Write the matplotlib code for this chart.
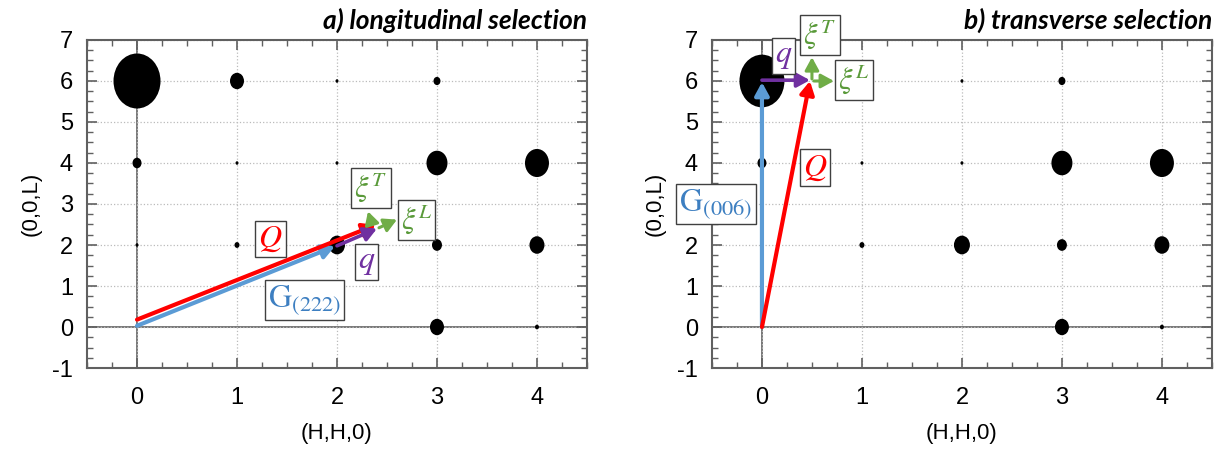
import matplotlib.pyplot as plt
from matplotlib.path import Path
from matplotlib.transforms import Affine2D

plt.rcParams['font.family'] = ['Liberation Sans', 'DejaVu Sans']
plt.rcParams['mathtext.fontset'] = 'stix'
plt.rcParams['axes.unicode_minus'] = False

# Bragg peaks along (H,H,L): positions and spot diameters (px)
peak_h_a = [0, 1, 2, 3, 0, 1, 2, 3, 4, 0, 1, 2, 3, 4, 3, 4]
peak_l_a = [6, 6, 6, 6, 4, 4, 4, 4, 4, 2, 2, 2, 2, 2, 0, 0]
peak_d_a = [47, 14, 3, 7, 9, 3, 3, 21, 24, 3, 5, 16, 10, 15, 14, 4]

peak_h_b = [0, 2, 3, 0, 1, 2, 3, 4, 0, 1, 2, 3, 4, 3, 4]
peak_l_b = [6, 6, 6, 4, 4, 4, 4, 4, 2, 2, 2, 2, 2, 0, 0]
peak_d_b = [45, 3, 7, 9, 3, 3, 21, 24, 3, 5, 16, 10, 15, 14, 4]

# vectors: (start, end) in (H,H,0)/(0,0,L) units
vec_a = {
    'G': ((0.0, 0.03), (1.98, 1.97)),
    'Q': ((0.0, 0.18), (2.39, 2.49)),
    'q': ((2.0, 1.98), (2.40, 2.40)),
    'xiL': ((2.42, 2.42), (2.60, 2.62)),
    'xiT': ((2.35, 2.50), (2.31, 2.82)),
}
vec_b = {
    'G': ((0.0, 0.0), (0.0, 5.97)),
    'Q': ((0.0, 0.0), (0.48, 6.0)),
    'q': ((0.0, 6.02), (0.48, 6.02)),
    'xiL': ((0.52, 6.0), (0.72, 6.0)),
    'xiT': ((0.5, 6.05), (0.5, 6.58)),
}
# label positions
lab_a = {'G': (1.675, 0.65), 'Q': (1.335, 2.14), 'q': (2.295, 1.59),
         'xiL': (2.795, 2.60), 'xiT': (2.34, 3.39)}
lab_b = {'G': (-0.46, 3.0), 'Q': (0.53, 3.89), 'q': (0.215, 6.61),
         'xiL': (0.92, 6.03), 'xiT': (0.58, 7.13)}

titles = ['a) longitudinal selection', 'b) transverse selection']
g_text = [r'$\mathrm{G}_{(222)}$', r'$\mathrm{G}_{(006)}$']
y_ticks = list(range(-1, 8))
# the G(006) box sits over L=3 in panel b
y_ticklabels_a = [str(v) for v in y_ticks]
y_ticklabels_b = ['' if v == 3 else str(v) for v in y_ticks]

colors = {'G': '#5b9bd5', 'Q': '#ff0000', 'q': '#7030a0',
          'xiL': '#70ad47', 'xiT': '#70ad47'}
txt_colors = {'G': '#3d7fc1', 'Q': '#ff0000', 'q': '#7030a0',
              'xiL': '#5a9a3a', 'xiT': '#5a9a3a'}
widths = {'G': 3.0, 'Q': 3.0, 'q': 2.6, 'xiL': 2.2, 'xiT': 2.2}
txt_sizes = {'G': 23, 'Q': 23, 'q': 23, 'xiL': 22, 'xiT': 22}

# slightly tall ellipse for the spots
ell = Path.unit_circle().transformed(Affine2D().scale(1.0, 1.17))

fig = plt.figure(figsize=(12.29, 4.55), dpi=100)
ax_a = fig.add_axes([0.0708, 0.1912, 0.4068, 0.7209])
ax_b = fig.add_axes([0.5793, 0.1912, 0.4068, 0.7209])

panels = [(ax_a, peak_h_a, peak_l_a, peak_d_a, vec_a, lab_a, y_ticklabels_a),
          (ax_b, peak_h_b, peak_l_b, peak_d_b, vec_b, lab_b, y_ticklabels_b)]

for i, (ax, hh, ll, dd, vecs, labs, ylabs) in enumerate(panels):
    ax.set_xlim(-0.5, 4.5)
    ax.set_ylim(-1, 7)
    ax.set_xticks(range(0, 5))
    ax.set_yticks(y_ticks)
    ax.set_yticklabels(ylabs)
    ax.set_xticks([x / 4 for x in range(-2, 19)], minor=True)
    ax.set_yticks([y / 4 for y in range(-4, 29)], minor=True)
    ax.grid(True, which='major', ls=':', color='#bbbbbb', lw=0.9)
    ax.tick_params(which='both', direction='in', top=True, right=True,
                   color='#606060', labelsize=17)
    ax.tick_params(which='major', length=7, width=1.2)
    ax.tick_params(which='minor', length=4, width=1.0)
    ax.tick_params(axis='x', pad=14)
    ax.tick_params(axis='y', pad=10)
    for sp in ax.spines.values():
        sp.set_color('#606060')
        sp.set_linewidth(1.5)
    ax.axhline(0, color='#606060', lw=1.2, zorder=1)
    ax.axvline(0, color='#606060', lw=1.2, zorder=1)

    # spot size given as horizontal diameter in px -> marker size in pt
    sizes = [(d * 0.72 * 1.17) ** 2 for d in dd]
    ax.scatter(hh, ll, s=sizes, marker=ell, color='black', lw=0, zorder=2)

    for key in ['G', 'Q', 'q', 'xiT', 'xiL']:
        (x0, y0), (x1, y1) = vecs[key]
        ax.annotate('', xy=(x1, y1), xytext=(x0, y0),
                    arrowprops=dict(arrowstyle='-|>,head_length=0.55,head_width=0.3',
                                    color=colors[key], lw=widths[key],
                                    mutation_scale=14, shrinkA=0, shrinkB=0),
                    zorder=4, annotation_clip=False)

    texts = {'G': g_text[i], 'Q': r'$Q$', 'q': r'$q$',
             'xiL': r'$\xi^{L}$', 'xiT': r'$\xi^{T}$'}
    for key, (x, y) in labs.items():
        ax.text(x, y, texts[key], color=txt_colors[key], fontsize=txt_sizes[key],
                ha='center', va='center', zorder=6, clip_on=False,
                bbox=dict(boxstyle='square,pad=0.1', fc='white',
                          ec='#404040', lw=1.0))

    ax.set_xlabel('(H,H,0)', fontsize=16, labelpad=10)
    ax.set_ylabel('(0,0,L)', fontsize=16, labelpad=8)
    ax.set_title(titles[i], loc='right', fontsize=19, fontweight='bold',
                 fontstyle='italic', family='Lato', pad=8)

fig.savefig('out.png', dpi=100)
